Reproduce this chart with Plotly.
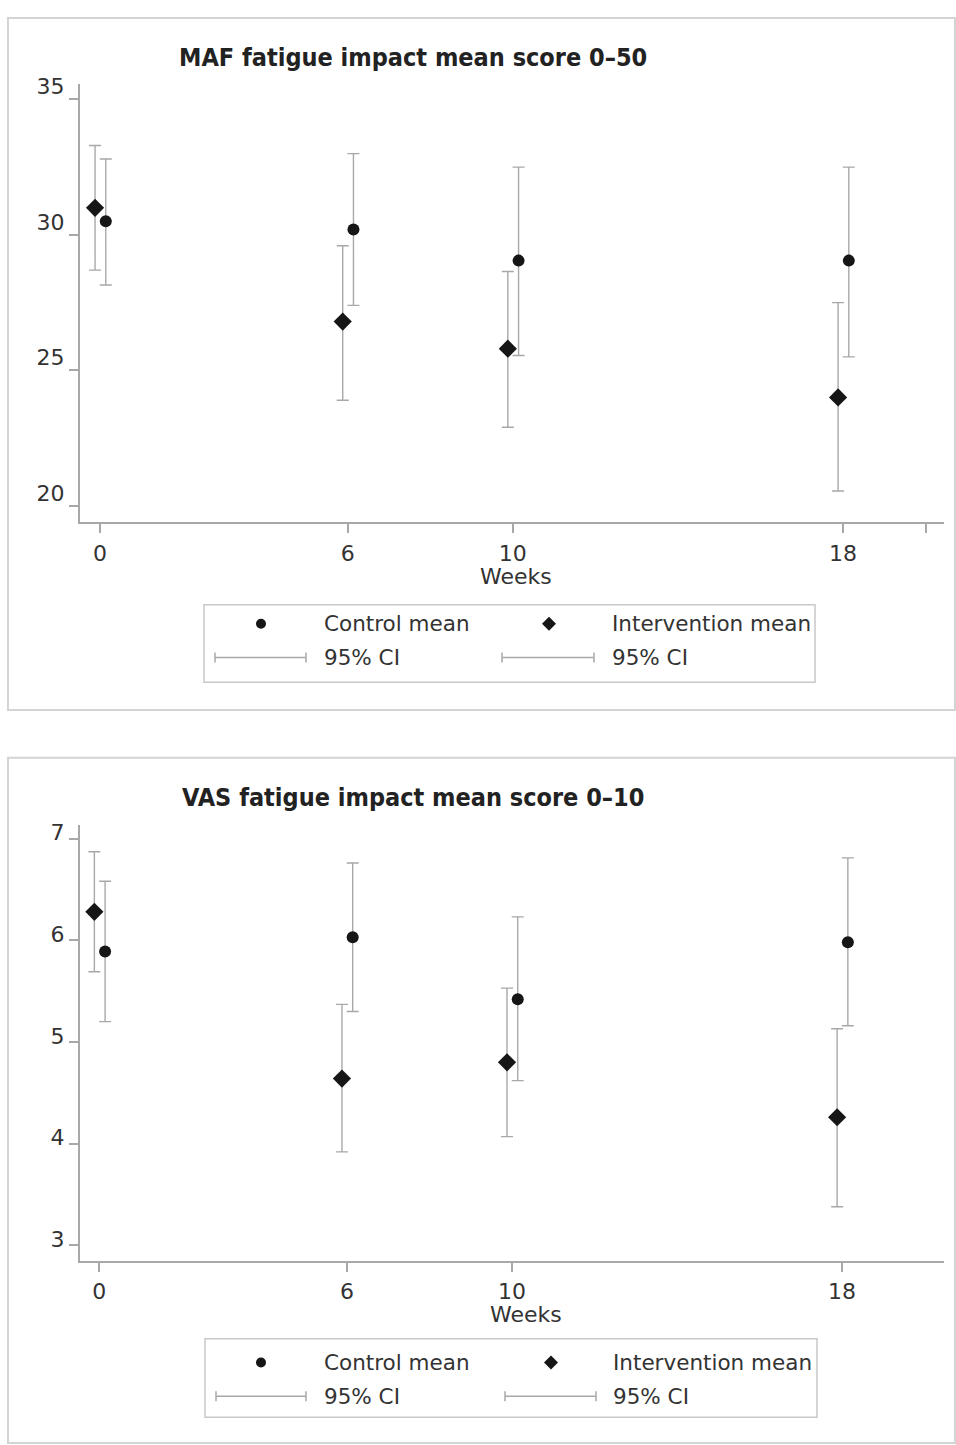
import plotly.graph_objects as go

# ---------------- data ----------------
weeks = [0, 6, 10, 18]

maf_control_mean = [30.5, 30.2, 29.05, 29.05]
maf_control_lo = [28.15, 27.4, 25.55, 25.5]
maf_control_hi = [32.8, 33.0, 32.5, 32.5]
maf_int_mean = [31.0, 26.8, 25.8, 24.0]
maf_int_lo = [28.7, 23.9, 22.9, 20.55]
maf_int_hi = [33.3, 29.6, 28.65, 27.5]

vas_control_mean = [5.89, 6.03, 5.42, 5.98]
vas_control_lo = [5.2, 5.3, 4.62, 5.16]
vas_control_hi = [6.58, 6.76, 6.23, 6.81]
vas_int_mean = [6.28, 4.64, 4.80, 4.26]
vas_int_lo = [5.69, 3.92, 4.07, 3.38]
vas_int_hi = [6.87, 5.37, 5.53, 5.13]

maf_yticks = [20, 25, 30, 35]
vas_yticks = [3, 4, 5, 6, 7]
xtick_labels = ["0", "6", "10", "18"]

titles = ["MAF fatigue impact mean score 0\u201350", "VAS fatigue impact mean score 0\u201310"]

# ---------------- styling ----------------
W, H = 956, 1445
GRAY = "#a8a8a8"
BLACK = "#161616"
TXT = "#333333"
FONT = "DejaVu Sans"
DODGE_INT, DODGE_CTL = -0.12, 0.14


def px(x):
    return x / W


def py(y):
    return 1 - y / H


fig = go.Figure()


def add_panel(xa, ya, ctl_m, ctl_lo, ctl_hi, int_m, int_lo, int_hi):
    for m, lo, hi, dodge, sym, size in [
        (int_m, int_lo, int_hi, DODGE_INT, "diamond", 14),
        (ctl_m, ctl_lo, ctl_hi, DODGE_CTL, "circle", 12),
    ]:
        fig.add_trace(go.Scatter(
            x=[w + dodge for w in weeks], y=m, mode="markers",
            marker=dict(symbol=sym, size=size, color=BLACK),
            error_y=dict(type="data", symmetric=False,
                         array=[h - v for h, v in zip(hi, m)],
                         arrayminus=[v - l for v, l in zip(m, lo)],
                         color=GRAY, thickness=1.4, width=6),
            xaxis=xa, yaxis=ya, showlegend=False, hoverinfo="skip"))


add_panel("x", "y", maf_control_mean, maf_control_lo, maf_control_hi,
          maf_int_mean, maf_int_lo, maf_int_hi)
add_panel("x2", "y2", vas_control_mean, vas_control_lo, vas_control_hi,
          vas_int_mean, vas_int_lo, vas_int_hi)

axis_common = dict(showgrid=False, zeroline=False, showline=True, linecolor=GRAY,
                   linewidth=2, ticks="outside", ticklen=9, tickwidth=1.5,
                   tickcolor=GRAY, tickfont=dict(family=FONT, size=22, color=TXT))

fig.update_layout(
    width=W, height=H, margin=dict(l=0, r=0, t=0, b=0),
    paper_bgcolor="white", plot_bgcolor="white",
    xaxis=dict(domain=[px(80), px(944)], range=[-0.4845, 20.446], anchor="y",
               tickvals=weeks + [20], ticktext=xtick_labels + [""],
               ticklabelstandoff=1, **axis_common),
    yaxis=dict(domain=[py(515.7), py(75)], range=[19.40, 35.55], anchor="x",
               tickvals=maf_yticks, ticklabelshift=-13, **axis_common),
    xaxis2=dict(domain=[px(80), px(944)], range=[-0.468, 20.47], anchor="y2",
                tickvals=weeks, ticktext=xtick_labels,
                ticklabelstandoff=1, **axis_common),
    yaxis2=dict(domain=[py(1259.3), py(820.7)], range=[2.851, 7.133], anchor="x2",
                tickvals=vas_yticks, ticklabelshift=-6, **axis_common),
)

shapes = []
annotations = []

# panel frames
for (x0, y0, x1, y1) in [(8, 8, 955, 705), (8, 753, 955, 1443)]:
    shapes.append(dict(type="rect", xref="paper", yref="paper",
                       x0=px(x0), x1=px(x1), y0=py(y1), y1=py(y0),
                       line=dict(color="#d4d4d4", width=2)))

# titles and axis titles
for t, ty in [(titles[0], 48), (titles[1], 793)]:
    annotations.append(dict(text=t, xref="paper", yref="paper", x=px(413), y=py(ty),
                            xanchor="center", yanchor="middle", showarrow=False,
                            font=dict(family="DejaVu Sans Condensed", size=25,
                                      color="#222222", weight="bold")))
annotations.append(dict(text="Weeks", xref="paper", yref="paper", x=px(516), y=py(570),
                        xanchor="center", yanchor="middle", showarrow=False,
                        font=dict(family=FONT, size=22, color=TXT)))
annotations.append(dict(text="Weeks", xref="paper", yref="paper", x=px(526), y=py(1314),
                        xanchor="center", yanchor="middle", showarrow=False,
                        font=dict(family=FONT, size=22, color=TXT)))

# legends
for box, r1, r2, tx1, tx2, m1, m2, ci1, ci2 in [
    ((204, 599, 815, 677), 618, 652, 322, 610, 261, 549, (215, 306), (502, 594)),
    ((205, 1338, 817, 1417), 1362, 1396, 322, 611, 261, 551, (216, 306), (505, 596)),
]:
    shapes.append(dict(type="rect", xref="paper", yref="paper",
                       x0=px(box[0]), x1=px(box[2]), y0=py(box[3]), y1=py(box[1]),
                       line=dict(color="#c8c8c8", width=1.5)))
    # circle marker
    shapes.append(dict(type="circle", xref="paper", yref="paper",
                       x0=px(m1 - 5), x1=px(m1 + 5), y0=py(r1 + 5), y1=py(r1 - 5),
                       fillcolor=BLACK, line=dict(color=BLACK, width=0)))
    # diamond marker
    d = 7
    path = (f"M {px(m2)} {py(r1 - d)} L {px(m2 + d)} {py(r1)} "
            f"L {px(m2)} {py(r1 + d)} L {px(m2 - d)} {py(r1)} Z")
    shapes.append(dict(type="path", xref="paper", yref="paper", path=path,
                       fillcolor=BLACK, line=dict(color=BLACK, width=0)))
    # CI samples
    for (a, b) in [ci1, ci2]:
        shapes.append(dict(type="line", xref="paper", yref="paper",
                           x0=px(a), x1=px(b), y0=py(r2), y1=py(r2),
                           line=dict(color=GRAY, width=1.5)))
        for c in (a, b):
            shapes.append(dict(type="line", xref="paper", yref="paper",
                               x0=px(c), x1=px(c), y0=py(r2 - 5), y1=py(r2 + 5),
                               line=dict(color=GRAY, width=1.5)))
    for text, x, y in [("Control mean", tx1, r1), ("Intervention mean", tx2, r1),
                       ("95% CI", tx1, r2), ("95% CI", tx2, r2)]:
        annotations.append(dict(text=text, xref="paper", yref="paper", x=px(x), y=py(y),
                                xanchor="left", yanchor="middle", showarrow=False,
                                font=dict(family=FONT, size=21.5, color=TXT)))

fig.update_layout(shapes=shapes, annotations=annotations)

post = (
    "document.documentElement.style.margin='0';"
    "document.documentElement.style.padding='0';"
    "document.documentElement.style.overflow='hidden';"
    "document.body.style.margin='0';"
    "document.body.style.padding='0';"
    "document.body.style.overflow='hidden';"
    "var gd=document.getElementById('{plot_id}');"
    "gd.style.position='fixed';gd.style.top='0px';gd.style.left='0px';"
)
fig.write_html("out.html", config={"displayModeBar": False}, post_script=post)
